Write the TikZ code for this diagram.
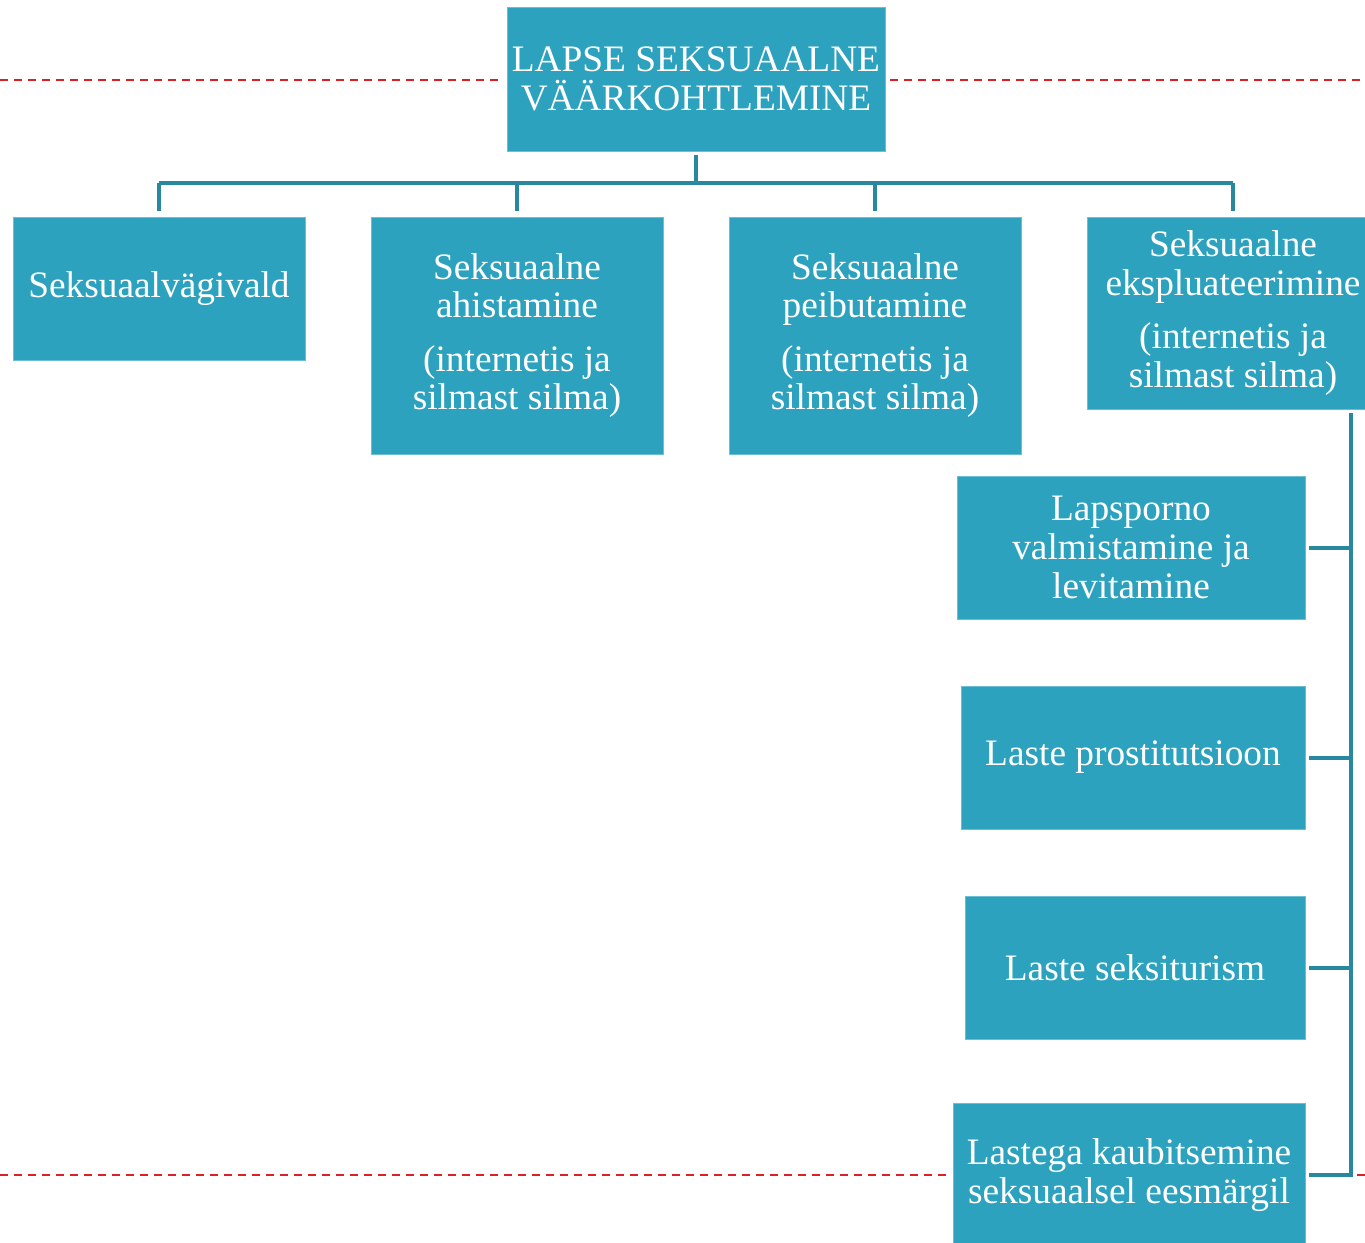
\documentclass[tikz,border=0pt]{standalone}
\usepackage{fontspec}
\setmainfont{Liberation Serif}
\usepackage{tikz}
\usetikzlibrary{positioning,calc}
\usepackage{xcolor}
\definecolor{cbox}{RGB}{45,162,191}
\definecolor{clink}{RGB}{40,136,160}
\definecolor{cdash}{RGB}{220,32,40}
\tikzstyle{box} = [fill=cbox, draw=cbox!70!white, line width=0.6pt, text=white, inner sep=0pt, align=center, font=\fontsize{28}{29}\selectfont]
\tikzstyle{link} = [line width=3pt, color=clink]
\tikzstyle{guide} = [line width=1.5pt, color=cdash, dash pattern=on 6pt off 4.5pt]

\begin{document}
\begin{tikzpicture}[x=0.75pt, y=-0.75pt]
\useasboundingbox (0,0) rectangle (1365,1243);

% Guide lines
\draw[guide] (0,80) -- (500,80);
\draw[guide] (890,80) -- (1365,80);
\draw[guide] (0,1175) -- (948,1175);
\draw[guide] (1357,1175) -- (1365,1175);

% Root
\node[box, minimum width=283.5pt, minimum height=108pt] (root) at (696,79)
    {LAPSE SEKSUAALNE\\VÄÄRKOHTLEMINE};

% First level
\node[box, minimum width=219pt, minimum height=107.25pt] (vagi) at (159,288.5) {Seksuaalvägivald};
\node[box, minimum width=219pt, minimum height=177.75pt] (ahist) at (517,335.5)
    {Seksuaalne\\ahistamine\\[11pt](internetis ja\\silmast silma)};
\node[box, minimum width=219pt, minimum height=177.75pt] (peibu) at (875,335.5)
    {Seksuaalne\\peibutamine\\[11pt](internetis ja\\silmast silma)};
\node[box, minimum width=219pt, minimum height=144pt] (ekspl) at (1233,313)
    {Seksuaalne\\ekspluateerimine\\[11pt](internetis ja\\silmast silma)};

% Forms of exploitation
\node[box, minimum width=261pt, minimum height=107.25pt] (porno) at (1131,547.5)
    {Lapsporno\\valmistamine ja\\levitamine};
\node[box, minimum width=258pt, minimum height=107.25pt] (prost) at (1133,757.5) {Laste prostitutsioon};
\node[box, minimum width=255pt, minimum height=107.25pt] (turism) at (1135,967.5) {Laste seksiturism};
\node[box, minimum width=264pt, minimum height=107.25pt] (kaubi) at (1129,1175)
    {Lastega kaubitsemine\\seksuaalsel eesmärgil};

% Tree lines
\coordinate (bus) at (696,183);
\draw[link] ([yshift=-3pt]root.south) -- (bus);
\draw[link] (vagi.north |- bus) -- (ekspl.north |- bus);
\foreach \n in {vagi,ahist,peibu,ekspl} {
    \draw[link] (bus -| \n.north) -- ([yshift=4pt]\n.north);
}

% Side rail
\coordinate (rail) at (1351,413);
\draw[link] (rail) |- ([xshift=3pt]kaubi.east);
\foreach \n in {porno,prost,turism} {
    \draw[link] ([xshift=3pt]\n.east) -- (\n.east -| rail);
}
\end{tikzpicture}
\end{document}
